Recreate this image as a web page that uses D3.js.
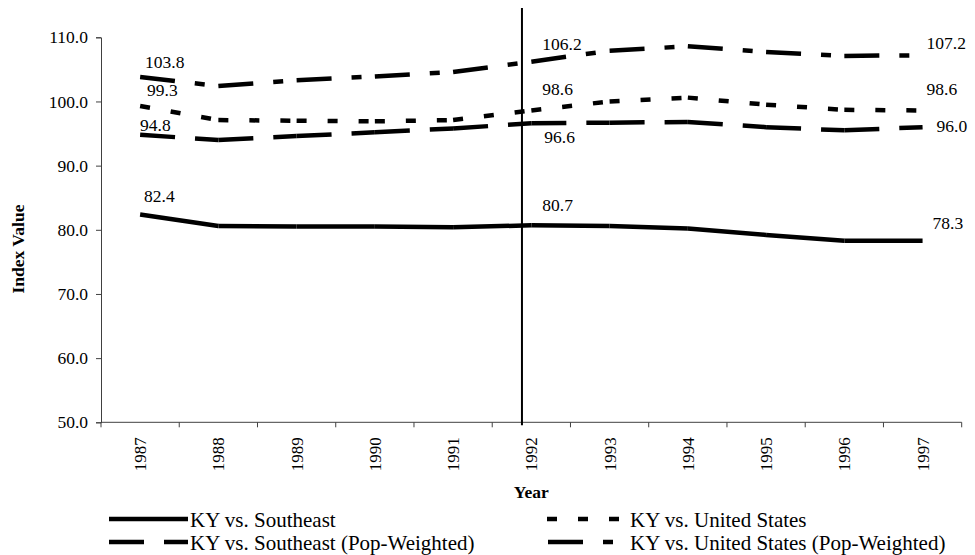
<!DOCTYPE html>
<html>
<head>
<meta charset="utf-8">
<script src="https://cdn.jsdelivr.net/npm/d3@7"></script>
<style>
  html, body { margin: 0; padding: 0; background: #fff; }
  svg { display: block; }
</style>
</head>
<body>
<svg id="chart" width="975" height="555"></svg>
<script>
// Index values, Kentucky compared with regional and national benchmarks
const years = [1987, 1988, 1989, 1990, 1991, 1992, 1993, 1994, 1995, 1996, 1997];
const kyVsSoutheast   = [82.4, 80.6, 80.5, 80.5, 80.4, 80.7, 80.6, 80.2, 79.2, 78.3, 78.3];
const kyVsSoutheastPW = [94.8, 94.0, 94.6, 95.2, 95.8, 96.6, 96.7, 96.8, 96.0, 95.5, 96.0];
const kyVsUS          = [99.3, 97.1, 97.0, 96.9, 97.1, 98.6, 100.0, 100.6, 99.5, 98.7, 98.6];
const kyVsUSPW        = [103.8, 102.4, 103.3, 103.9, 104.6, 106.2, 107.9, 108.6, 107.7, 107.1, 107.2];
const seriesNames = [
  "KY vs. Southeast",
  "KY vs. Southeast (Pop-Weighted)",
  "KY vs. United States",
  "KY vs. United States (Pop-Weighted)"
];
const yTicks = [50, 60, 70, 80, 90, 100, 110];
const labelledYears = [1987, 1992, 1997];
const markerYear = 1991.88;   // vertical reference line

const FONT = '"Liberation Serif", "Times New Roman", serif';

// Stroke styles for each series (dash patterns restart at every vertex)
const styles = [
  { dash: null },
  { dash: "35,20" },
  { dash: "10,21" },
  { dash: "35,20,10,20" }
];

// Placement of the value labels relative to their points: [dx, dy] per series per labelled year
const labelOffsets = [
  [[4, -12], [11, -14], [10, -12]],
  [[0, -4],  [13, 20],  [14, 5]],
  [[7, -10], [11, -15], [4, -15]],
  [[5, -9],  [11, -12], [4, -6]]
];

const seriesValues = [kyVsSoutheast, kyVsSoutheastPW, kyVsUS, kyVsUSPW];

const svg = d3.select("#chart");
const plot = { left: 101, right: 961.7, top: 37.3, bottom: 422.3 };

const x = d3.scaleBand().domain(years).range([plot.left, plot.right]).padding(0);
const xc = d => x(d) + x.bandwidth() / 2;
const xLin = d3.scaleLinear().domain([years[0] - 0.5, years[years.length - 1] + 0.5]).range([plot.left, plot.right]);
const y = d3.scaleLinear().domain([50, 110]).range([plot.bottom, plot.top]);

const axisColor = "#404040";

// Y axis
const yAxis = svg.append("g")
  .attr("transform", `translate(${plot.left},0)`)
  .call(d3.axisLeft(y).tickValues(yTicks).tickFormat(d3.format(".1f")).tickSize(5).tickPadding(8));
yAxis.attr("font-family", null).attr("font-size", null);
yAxis.select(".domain").attr("stroke", axisColor);
yAxis.selectAll(".tick line").attr("stroke", axisColor);
yAxis.selectAll(".tick text").style("font-size", "17.5px").style("font-family", FONT).attr("fill", "#000");

// X axis: line and tick marks between categories
const xg = svg.append("g");
xg.append("line")
  .attr("x1", plot.left).attr("x2", plot.right)
  .attr("y1", plot.bottom).attr("y2", plot.bottom)
  .attr("stroke", axisColor).attr("stroke-width", 1);
const boundaries = years.map(d => x(d)).concat([plot.right]);
xg.selectAll("line.tick").data(boundaries).join("line")
  .attr("class", "tick")
  .attr("x1", d => d).attr("x2", d => d)
  .attr("y1", plot.bottom).attr("y2", plot.bottom + 5)
  .attr("stroke", axisColor).attr("stroke-width", 1);
xg.selectAll("text").data(years).join("text")
  .attr("transform", d => `translate(${xc(d) + 6},${plot.bottom + 15}) rotate(-90)`)
  .attr("text-anchor", "end")
  .style("font-family", FONT)
  .style("font-size", "17px")
  .text(d => d);

// Axis titles
svg.append("text")
  .attr("x", xLin(1992))
  .attr("y", 498)
  .attr("text-anchor", "middle")
  .style("font-family", FONT)
  .style("font-size", "17.5px").style("font-weight", "bold")
  .text("Year");
svg.append("text")
  .attr("transform", `translate(24,${y(77)}) rotate(-90)`)
  .attr("text-anchor", "middle")
  .style("font-family", FONT)
  .style("font-size", "17.5px").style("font-weight", "bold")
  .text("Index Value");

// Vertical reference line
svg.append("line")
  .attr("x1", xLin(markerYear)).attr("x2", xLin(markerYear))
  .attr("y1", 8).attr("y2", plot.bottom + 3)
  .attr("stroke", "#000").attr("stroke-width", 2);

// Series lines, each segment drawn separately so the dash pattern restarts at each vertex
const line = d3.line().x(d => xc(d.year)).y(d => y(d.value));
seriesValues.forEach((vals, si) => {
  const pts = years.map((yr, i) => ({ year: yr, value: vals[i] }));
  const segs = d3.pairs(pts);
  const paths = svg.append("g").selectAll("path").data(segs).join("path")
    .attr("d", d => line(d))
    .attr("fill", "none")
    .attr("stroke", "#000")
    .attr("stroke-width", 4.5)
    .attr("stroke-linejoin", "round");
  if (styles[si].dash) paths.attr("stroke-dasharray", styles[si].dash);
});

// Value labels
seriesValues.forEach((vals, si) => {
  labelledYears.forEach((yr, k) => {
    const i = years.indexOf(yr);
    const [dx, dy] = labelOffsets[si][k];
    svg.append("text")
      .attr("x", xc(yr) + dx)
      .attr("y", y(vals[i]) + dy)
      .style("font-family", FONT)
      .style("font-size", "17.5px")
      .text(d3.format(".1f")(vals[i]));
  });
});

// Legend
const legendItems = [
  { si: 0, x0: 109, x1: 188, tx: 190, ly: 519 },
  { si: 1, x0: 109, x1: 188, tx: 190, ly: 542 },
  { si: 2, x0: 547, x1: 620, tx: 630, ly: 519 },
  { si: 3, x0: 548, x1: 615, tx: 630, ly: 542 }
];
const lg = svg.append("g");
legendItems.forEach(it => {
  const l = lg.append("line")
    .attr("x1", it.x0).attr("x2", it.x1)
    .attr("y1", it.ly).attr("y2", it.ly)
    .attr("stroke", "#000").attr("stroke-width", 4.5);
  if (styles[it.si].dash) l.attr("stroke-dasharray", styles[it.si].dash);
  lg.append("text")
    .attr("x", it.tx).attr("y", it.ly + 8)
    .style("font-family", FONT)
    .style("font-size", "21px")
    .text(seriesNames[it.si]);
});
</script>
</body>
</html>
